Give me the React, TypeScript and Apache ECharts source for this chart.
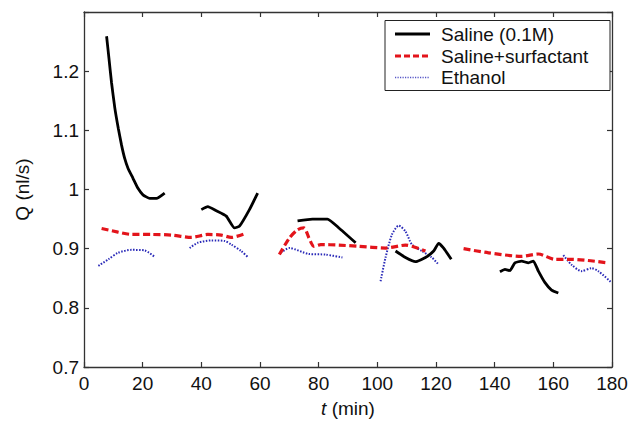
import React, { useEffect, useRef } from "react";
import * as echarts from "echarts";

// t (min), Q (nl/s)
const salineSeg1 = [[7.7,1.259],[8.5,1.222],[9.4,1.18],[10.5,1.138],[11.7,1.103],[12.8,1.075],[13.9,1.052],[15.0,1.036],[16.7,1.019],[18.4,1.002],[20.1,0.991],[22.4,0.985],[24.7,0.985],[27.5,0.994]];
const salineSeg2 = [[40.0,0.966],[42.2,0.971],[45.1,0.964],[48.5,0.955],[51.3,0.935],[53.0,0.938],[56.4,0.966],[59.2,0.994]];
const salineSeg3 = [[72.8,0.947],[77.9,0.95],[83.0,0.95],[86.9,0.935],[92.6,0.91]];
const salineSeg4 = [[106.2,0.896],[109.6,0.885],[113.0,0.878],[116.4,0.885],[119.2,0.896],[120.9,0.909],[122.6,0.901],[125.2,0.882]];
const salineSeg5 = [[141.8,0.861],[143.5,0.865],[145.2,0.863],[146.9,0.876],[149.2,0.879],[151.5,0.876],[153.2,0.879],[154.9,0.862],[157.1,0.843],[159.4,0.83],[161.7,0.825]];

const surfSeg1 = [[6.0,0.934],[11.6,0.928],[16.2,0.924],[23.0,0.924],[29.8,0.923],[36.6,0.919],[42.2,0.924],[46.8,0.923],[50.2,0.919],[54.7,0.925]];
const surfSeg2 = [[66.6,0.89],[70.0,0.918],[72.8,0.932],[75.0,0.935],[76.7,0.918],[78.4,0.904],[80.7,0.907],[86.9,0.906],[93.7,0.904],[102.8,0.901],[109.6,0.906],[116.4,0.896]];
const surfSeg3 = [[129.4,0.9],[137.9,0.893],[149.2,0.887],[154.9,0.891],[160.5,0.882],[166.2,0.882],[171.8,0.88],[178.6,0.876]];

const ethSeg1 = [[4.9,0.871],[8.3,0.882],[11.6,0.893],[16.2,0.898],[20.7,0.897],[24.1,0.886]];
const ethSeg2 = [[36.0,0.901],[38.8,0.91],[43.4,0.914],[47.9,0.913],[50.2,0.907],[53.6,0.896],[55.8,0.886]];
const ethSeg3 = [[67.1,0.893],[70.0,0.901],[76.7,0.891],[82.4,0.89],[88.1,0.885]];
const ethSeg4 = [[101.1,0.845],[102.8,0.885],[105.0,0.924],[107.3,0.939],[109.6,0.929],[111.8,0.907],[115.2,0.896],[118.6,0.885],[120.9,0.873]];
const ethSeg5 = [[163.4,0.889],[166.2,0.873],[169.6,0.862],[173.0,0.867],[175.3,0.862],[179.8,0.843]];

const seriesNames = ["Saline (0.1M)", "Saline+surfactant", "Ethanol"];
const seriesColors = ["#000000", "#e3141b", "#2a2ab8"];
const xTicks = { min: 0, max: 180, interval: 20 };
const yTicks = { min: 0.7, max: 1.3, interval: 0.1 };

function joinSegments(segs: number[][][]) {
  const out: any[] = [];
  segs.forEach((s, i) => {
    if (i > 0) out.push([s[0][0] - 0.01, "-"]);
    s.forEach((p) => out.push(p));
  });
  return out;
}

const FONT = "'Liberation Sans', Arial, sans-serif";
const FS = 19;

export default function App() {
  const ref = useRef<HTMLDivElement>(null);
  useEffect(() => {
    if (!ref.current) return;
    const chart = echarts.init(ref.current, null, { renderer: "svg" });
    const axisColor = "#333";
    const baseAxis = {
      axisLine: { show: true, onZero: false, lineStyle: { color: axisColor, width: 1.3 } },
      axisTick: { show: true, inside: true, length: 5, lineStyle: { color: axisColor, width: 1.2 } },
      splitLine: { show: false },
    };
    const lineStyles = [
      { color: seriesColors[0], width: 2.8 },
      { color: seriesColors[1], width: 3.2, type: [7, 3.5] },
      { color: seriesColors[2], width: 2, type: [1.5, 1.5] },
    ];
    const legendRowsY = [34, 56, 77.5];
    const legendGraphics: any[] = [
      {
        type: "rect",
        shape: { x: 385, y: 20.5, width: 225, height: 70 },
        style: { fill: "#fff", stroke: "#222", lineWidth: 1 },
        z: 10,
      },
    ];
    seriesNames.forEach((name, i) => {
      legendGraphics.push({
        type: "line",
        shape: { x1: 395, y1: legendRowsY[i], x2: 430, y2: legendRowsY[i] },
        style: {
          stroke: seriesColors[i],
          lineWidth: i === 2 ? 1.6 : lineStyles[i].width,
          lineDash: i === 1 ? [6, 3] : i === 2 ? [1.2, 1.3] : null,
          opacity: i === 2 ? 0.8 : 1,
        },
        z: 11,
      });
      legendGraphics.push({
        type: "text",
        x: 441,
        y: legendRowsY[i],
        style: {
          text: name,
          font: `${FS}px ${FONT}`,
          fill: "#111",
          verticalAlign: "middle",
          align: "left",
        },
        z: 11,
      });
    });
    chart.setOption({
      animation: false,
      backgroundColor: "#fff",
      grid: { left: 84, right: 21, top: 12, bottom: 52, containLabel: false },
      xAxis: [
        {
          type: "value",
          ...xTicks,
          position: "bottom",
          ...baseAxis,
          axisLabel: { color: "#111", fontSize: FS, fontFamily: FONT, margin: 7 },
          name: "{i|t} (min)",
          nameLocation: "middle",
          nameGap: 32,
          nameTextStyle: {
            color: "#111", fontSize: FS, fontFamily: FONT,
            rich: { i: { fontStyle: "italic", fontSize: FS, fontFamily: FONT, color: "#111" } },
          },
        },
        {
          type: "value",
          ...xTicks,
          position: "top",
          ...baseAxis,
          axisLabel: { show: false },
        },
      ],
      yAxis: [
        {
          type: "value",
          ...yTicks,
          position: "left",
          ...baseAxis,
          axisLabel: {
            color: "#111", fontSize: FS, fontFamily: FONT, margin: 5,
            formatter: (v: number) => (v > 1.25 ? "" : String(Math.round(v * 10) / 10)),
          },
          name: "Q (nl/s)",
          nameLocation: "middle",
          nameGap: 52,
          nameTextStyle: { color: "#111", fontSize: FS, fontFamily: FONT },
        },
        {
          type: "value",
          ...yTicks,
          position: "right",
          ...baseAxis,
          axisLabel: { show: false },
        },
      ],
      graphic: legendGraphics,
      series: [
        {
          name: seriesNames[0],
          type: "line",
          data: joinSegments([salineSeg1, salineSeg2, salineSeg3, salineSeg4, salineSeg5]),
          showSymbol: false,
          symbol: "none",
          smooth: 0.15,
          connectNulls: false,
          lineStyle: lineStyles[0],
          z: 4,
        },
        {
          name: seriesNames[1],
          type: "line",
          data: joinSegments([surfSeg1, surfSeg2, surfSeg3]),
          showSymbol: false,
          symbol: "none",
          smooth: 0.25,
          connectNulls: false,
          lineStyle: lineStyles[1],
          z: 3,
        },
        {
          name: seriesNames[2],
          type: "line",
          data: joinSegments([ethSeg1, ethSeg2, ethSeg3, ethSeg4, ethSeg5]),
          showSymbol: false,
          symbol: "none",
          smooth: 0.25,
          connectNulls: false,
          lineStyle: lineStyles[2],
          z: 2,
        },
      ],
    });
    return () => chart.dispose();
  }, []);
  return (
    <div style={{ position: "absolute", left: 0, top: 0, width: 633, height: 423, background: "#fff" }}>
      <div ref={ref} style={{ width: 633, height: 423 }} />
    </div>
  );
}
